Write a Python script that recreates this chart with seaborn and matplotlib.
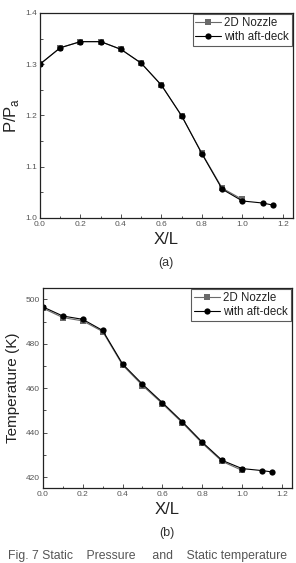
import numpy as np
import pandas as pd
import seaborn as sns
import matplotlib
matplotlib.use("Agg")
import matplotlib.pyplot as plt
from matplotlib.ticker import MultipleLocator

x_nozzle = [0.0, 0.1, 0.2, 0.3, 0.4, 0.5, 0.6, 0.7, 0.8, 0.9, 1.0]
x_deck = [0.0, 0.1, 0.2, 0.3, 0.4, 0.5, 0.6, 0.7, 0.8, 0.9, 1.0, 1.1, 1.15]

p_nozzle = [1.300, 1.332, 1.344, 1.344, 1.329, 1.302, 1.259, 1.199, 1.126, 1.058, 1.036]
p_deck = [1.300, 1.332, 1.344, 1.344, 1.329, 1.302, 1.259, 1.199, 1.125, 1.056, 1.033, 1.029, 1.025]

t_nozzle = [496.0, 491.8, 490.3, 485.5, 470.4, 461.2, 453.0, 444.4, 435.2, 427.0, 423.0]
t_deck = [496.6, 492.5, 491.0, 486.0, 470.9, 461.8, 453.5, 444.9, 435.7, 427.5, 423.8, 422.9, 422.3]

labels = ["2D Nozzle", "with aft-deck"]

sns.set_theme(style="white")
plt.rcParams['font.family'] = ['Liberation Sans', 'DejaVu Sans']

fig = plt.figure(figsize=(2.96, 5.63), dpi=100)
ax1 = fig.add_axes([0.135, 0.613, 0.855, 0.364])
ax2 = fig.add_axes([0.145, 0.133, 0.841, 0.355])

def draw(ax, yn, yd):
    df1 = pd.DataFrame({"x": x_nozzle, "y": yn})
    df2 = pd.DataFrame({"x": x_deck, "y": yd})
    sns.lineplot(data=df1, x="x", y="y", ax=ax, color="#6a6a6a", lw=0.8,
                 marker="s", markersize=4, markeredgewidth=0, label=labels[0])
    sns.lineplot(data=df2, x="x", y="y", ax=ax, color="black", lw=0.8,
                 marker="o", markersize=4.5, markeredgewidth=0, label=labels[1])
    ax.set_xlim(0, 1.25)
    ax.xaxis.set_major_locator(MultipleLocator(0.2))
    ax.xaxis.set_minor_locator(MultipleLocator(0.1))
    ax.tick_params(which="both", direction="in", labelsize=6, colors="#333333",
                   top=False, right=False, bottom=True, left=True, pad=2)
    ax.tick_params(which="major", length=3, width=0.6)
    ax.tick_params(which="minor", length=1.8, width=0.6)
    ax.tick_params(axis="both", labelcolor="#555555")
    ax.set_xticklabels([f"{v:.1f}" for v in ax.get_xticks()])
    for s in ax.spines.values():
        s.set_color("#222222")
        s.set_linewidth(0.9)
    ax.set_xlabel("X/L", fontsize=12, color="#222222", labelpad=3)
    leg = ax.legend(loc="upper right", fontsize=8.3, frameon=True, fancybox=False,
                    borderpad=0.25, handlelength=2.2, handletextpad=0.3,
                    labelspacing=0.15, borderaxespad=0.1)
    leg.get_frame().set_edgecolor("#333333")
    leg.get_frame().set_linewidth(0.8)
    for t in leg.get_texts():
        t.set_color("#222222")

draw(ax1, p_nozzle, p_deck)
ax1.set_ylim(1.0, 1.4)
ax1.yaxis.set_major_locator(MultipleLocator(0.1))
ax1.yaxis.set_minor_locator(MultipleLocator(0.05))
ax1.set_yticks([1.0, 1.1, 1.2, 1.3, 1.4])
ax1.set_yticklabels(["1.0", "1.1", "1.2", "1.3", "1.4"])
ax1.set_ylabel(r"P/P$_\mathregular{a}$", fontsize=12, color="#222222", labelpad=3)

draw(ax2, t_nozzle, t_deck)
ax2.set_ylim(415, 505)
ax2.yaxis.set_major_locator(MultipleLocator(20))
ax2.yaxis.set_minor_locator(MultipleLocator(10))
ax2.set_ylabel("Temperature (K)", fontsize=11, color="#222222", labelpad=4)

fig.text(0.56, 1 - 263 / 563, "(a)", ha="center", va="center", fontsize=9, color="#333333")
fig.text(0.565, 1 - 533 / 563, "(b)", ha="center", va="center", fontsize=9, color="#333333")
fig.text(0.5, 1 - 562 / 563, "Fig. 7 Static    Pressure     and    Static temperature",
         ha="center", va="bottom", fontsize=8.8, color="#555555")

fig.savefig("out.png", dpi=100)
